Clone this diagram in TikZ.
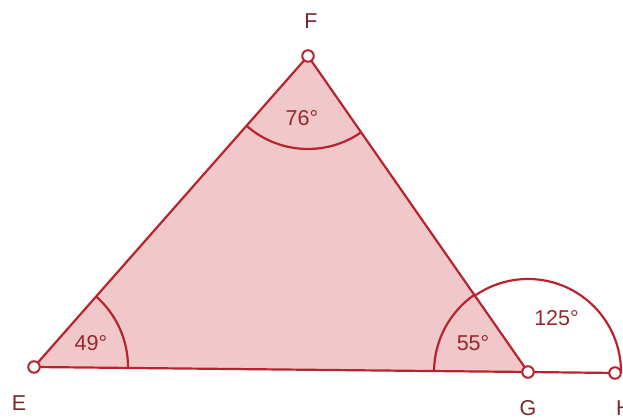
\documentclass[tikz,border=0pt]{standalone}
\usepackage{fontspec}
\setmainfont{Liberation Sans}
\usetikzlibrary{angles}
\definecolor{linec}{RGB}{185,35,45}
\definecolor{fillc}{RGB}{240,200,202}
\definecolor{textc}{RGB}{150,40,45}
\definecolor{labc}{RGB}{120,40,45}
\begin{document}
\begin{tikzpicture}[x=1pt,y=1pt,
  pt/.style={circle,draw=linec,fill=white,line width=2pt,minimum size=11.5pt,inner sep=0pt},
  side/.style={draw=linec,line width=2.2pt},
  arcst/.style={draw=linec,line width=2.2pt,angle radius=94pt},
  deg/.style={text=textc,font=\fontsize{21.5}{24}\selectfont,inner sep=0pt},
  lab/.style={text=labc,font=\fontsize{21.5}{24}\selectfont,inner sep=0pt}]
\useasboundingbox (0,0) rectangle (623,419);
\coordinate (E) at (34,52);
\coordinate (F) at (308,363);
\coordinate (G) at (528,47);
\coordinate (H) at (615,46);
\fill[fillc] (E) -- (F) -- (G) -- cycle;
\pic[arcst] {angle = G--E--F};
\pic[arcst,angle radius=93pt] {angle = E--F--G};
\pic[arcst] {angle = F--G--E};
\pic[arcst,angle radius=93pt] {angle = H--G--F};
\draw[side] (E) -- (F) -- (G) -- (E);
\draw[side] (G) -- (H);
\node[pt] (e) at (E) {};
\node[pt] (f) at (F) {};
\node[pt] (g) at (G) {};
\node[pt] (h) at (H) {};
\node[deg] (a1) at (302,301) {76°};
\node[deg] (a2) at (91,75.5) {49°};
\node[deg] (a3) at (473,75.5) {55°};
\node[deg] (a4) at (556.5,100.5) {125°};
\node[lab] (lE) at (19,16) {E};
\node[lab] (lF) at (311,398) {F};
\node[lab] (lG) at (528,11) {G};
\node[lab] (lH) at (624,11) {H};
\end{tikzpicture}
\end{document}
